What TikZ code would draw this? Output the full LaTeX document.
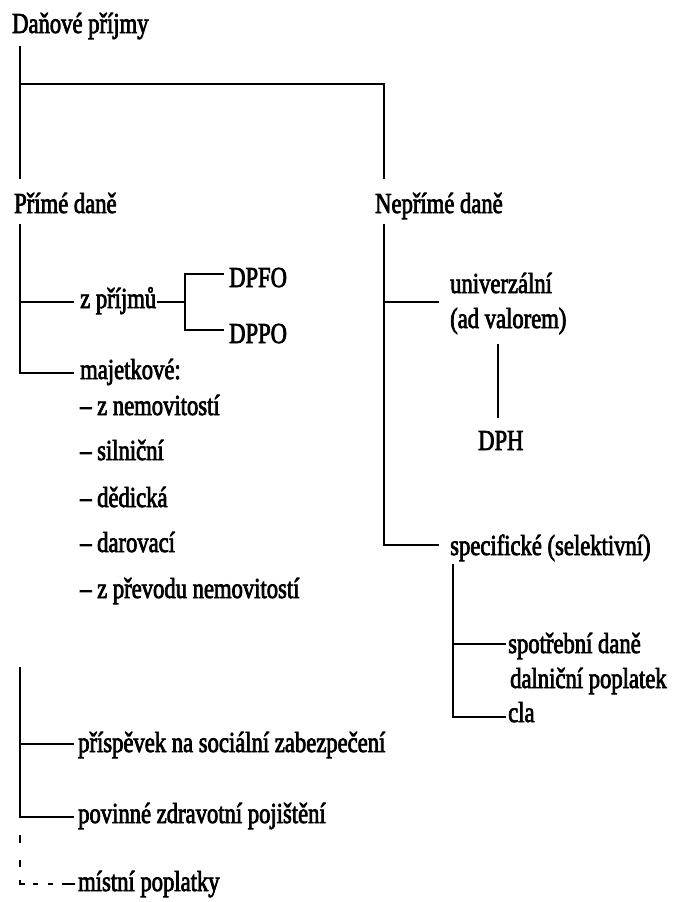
\documentclass[tikz,border=0pt]{standalone}
\usepackage{fontspec}
\setmainfont{Liberation Serif}[FakeStretch=0.78,FakeBold=2.5]
\begin{document}
\begin{tikzpicture}[x=1pt,y=-1pt,
  lbl/.style={anchor=base west,inner sep=0pt,font=\fontsize{29}{31}\selectfont},
  conn/.style={line width=2pt,line cap=rect}]
\useasboundingbox (0,0) rectangle (679,902);

% ---- labels ----
\node[lbl] (root)  at (12,33)  {Daňové příjmy};
\node[lbl] (prime) at (14,213) {Přímé daně};
\node[lbl] (neprime) at (375,213) {Nepřímé daně};

\node[lbl] (zprijmu) at (80,308) {z příjmů};
\node[lbl] (dpfo) at (229,287) {DPFO};
\node[lbl] (dppo) at (229,343) {DPPO};
\node[lbl] (majet) at (80,379) {majetkové:};
\node[lbl] (m1) at (80,415) {– z nemovitostí};
\node[lbl] (m2) at (80,460) {– silniční};
\node[lbl] (m3) at (80,507) {– dědická};
\node[lbl] (m4) at (80,552) {– darovací};
\node[lbl] (m5) at (80,598) {– z převodu nemovitostí};

\node[lbl] (univ) at (450,293) {univerzální};
\node[lbl] (adval) at (450,328) {(ad valorem)};
\node[lbl] (dph) at (478,450) {DPH};
\node[lbl] (spec) at (450,555) {specifické (selektivní)};
\node[lbl] (spotr) at (508,653) {spotřební daně};
\node[lbl] (daln) at (510,688) {dalniční poplatek};
\node[lbl] (cla) at (508,722) {cla};

\node[lbl] (soc) at (78,752) {příspěvek na sociální zabezpečení};
\node[lbl] (zdrav) at (78,823) {povinné zdravotní pojištění};
\node[lbl] (mist) at (78,891) {místní poplatky};

% ---- junction points ----
\coordinate (rootS) at (20,47);
\coordinate (primeN) at (20,178);
\coordinate (nepN) at (384,178);
\coordinate (primeS) at (20,225);
\coordinate (nepS) at (384,225);
\coordinate (zpL) at (20,302);
\coordinate (majL) at (20,373);
\coordinate (zpFork) at (185,302);
\coordinate (univL) at (384,302);
\coordinate (specL) at (384,545);
\coordinate (dphN) at (498,345);
\coordinate (dphS) at (498,417);
\coordinate (specS) at (453,565);
\coordinate (spotrL) at (453,644);
\coordinate (claL) at (453,717);
\coordinate (botN) at (20,668);
\coordinate (socL) at (20,744);
\coordinate (zdrL) at (20,817);
\coordinate (mistL) at (20,884);

% ---- connectors ----
\draw[conn] (rootS) -- (primeN);
\draw[conn] (20,84) -| (nepN);

\draw[conn] (primeS) -- (majL) -- (73,373);
\draw[conn] (zpL) -- (73,302);
\draw[conn] (158,302) -- (zpFork);
\draw[conn] (223,274) -| (zpFork) |- (223,330);

\draw[conn] (nepS) -- (specL) -- (438,545);
\draw[conn] (univL) -- (438,302);
\draw[conn] (dphN) -- (dphS);
\draw[conn] (specS) -- (claL) -- (505,717);
\draw[conn] (spotrL) -- (505,644);

\draw[conn] (botN) -- (zdrL) -- (73,817);
\draw[conn] (socL) -- (73,744);
% dashed branch to the last item
\draw[line width=2pt,line cap=butt,miter limit=10,
  dash pattern=on 8pt off 17pt on 7pt off 13pt on 9pt off 8pt on 5pt off 10pt on 5pt off 9pt on 13pt off 18pt,
  dash phase=104pt] (zdrL) -- (mistL) -- (75,884);
\end{tikzpicture}
\end{document}
